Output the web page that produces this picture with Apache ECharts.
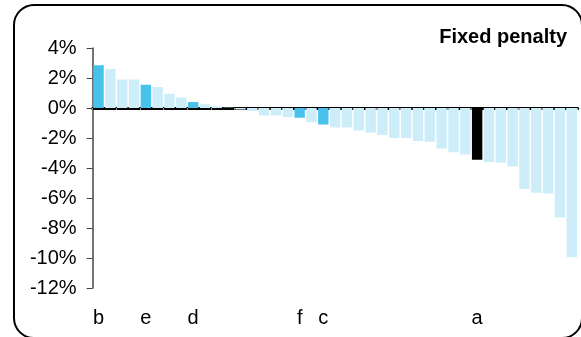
<!DOCTYPE html>
<html>
<head>
<meta charset="utf-8">
<script src="https://cdn.jsdelivr.net/npm/echarts@6/dist/echarts.min.js"></script>
<style>
  html, body { margin: 0; padding: 0; background: #fff; }
  #chart { width: 581px; height: 337px; }
</style>
</head>
<body>
<div id="chart"></div>
<script>
// x labels: only a few bars are named
var labels = ['b', '', '', '', 'e', '', '', '', 'd', '', '',
  '', '', '', '', '', '', 'f', '', 'c', '', '', '', '', '', '', '',
  '', '', '', '', '', 'a', '', '', '', '', '', '', '', ''];
// change in %, one per bar
var values = [2.85, 2.6, 1.9, 1.9, 1.55, 1.4, 0.95, 0.7, 0.4, 0.25, 0.12,
  0.02, -0.1, -0.2, -0.5, -0.5, -0.6, -0.65, -0.95, -1.1, -1.3, -1.3, -1.5,
  -1.65, -1.8, -2.0, -2.0, -2.2, -2.25, -2.7, -2.95, -3.1, -3.45, -3.6, -3.65,
  -3.9, -5.4, -5.65, -5.7, -7.3, -9.95];
var yTicks = { min: -12, max: 4, step: 2 };

var font = 'Liberation Sans, Arial, sans-serif';
var cats = labels.map(function (l, i) { return String(i); });

function barColor(label) {
  if (label === 'a') return '#000000';
  if (label) return '#48c1eb';
  return '#cdedf9';
}

var chart = echarts.init(document.getElementById('chart'));
chart.setOption({
  animation: false,
  title: {
    text: 'Fixed penalty',
    right: 14,
    top: 27,
    padding: 0,
    textStyle: { fontFamily: font, fontSize: 20, fontWeight: 'bold', color: '#000' }
  },
  graphic: [{
    type: 'rect',
    shape: { x: 14, y: 5, width: 568, height: 333, r: 20 },
    style: { fill: 'none', stroke: '#000', lineWidth: 2 }
  }],
  grid: { left: 92.6, right: 3.3, top: 48, bottom: 49 },
  xAxis: [{
    type: 'category',
    data: cats,
    axisLine: { onZero: true, lineStyle: { color: '#000', width: 3 } },
    axisTick: { show: true, length: 2, lineStyle: { color: '#999' } },
    axisLabel: { show: false }
  }, {
    type: 'category',
    data: cats,
    position: 'bottom',
    axisLine: { show: false },
    axisTick: { show: false },
    axisLabel: {
      interval: 0,
      margin: 20,
      fontFamily: font,
      fontSize: 20,
      color: '#000',
      formatter: function (v) { return labels[+v]; }
    }
  }],
  yAxis: {
    type: 'value',
    min: yTicks.min,
    max: yTicks.max,
    interval: yTicks.step,
    splitLine: { show: false },
    axisLine: { show: true, lineStyle: { color: '#444', width: 1.5 } },
    axisTick: { show: true, length: 6, lineStyle: { color: '#444' } },
    axisLabel: {
      margin: 16,
      fontFamily: font,
      fontSize: 20,
      color: '#000',
      formatter: '{value}%'
    }
  },
  series: [{
    type: 'bar',
    xAxisIndex: 0,
    barCategoryGap: '12%',
    data: values.map(function (v, i) {
      return { value: v, itemStyle: { color: barColor(labels[i]) } };
    })
  }]
});
</script>
</body>
</html>
